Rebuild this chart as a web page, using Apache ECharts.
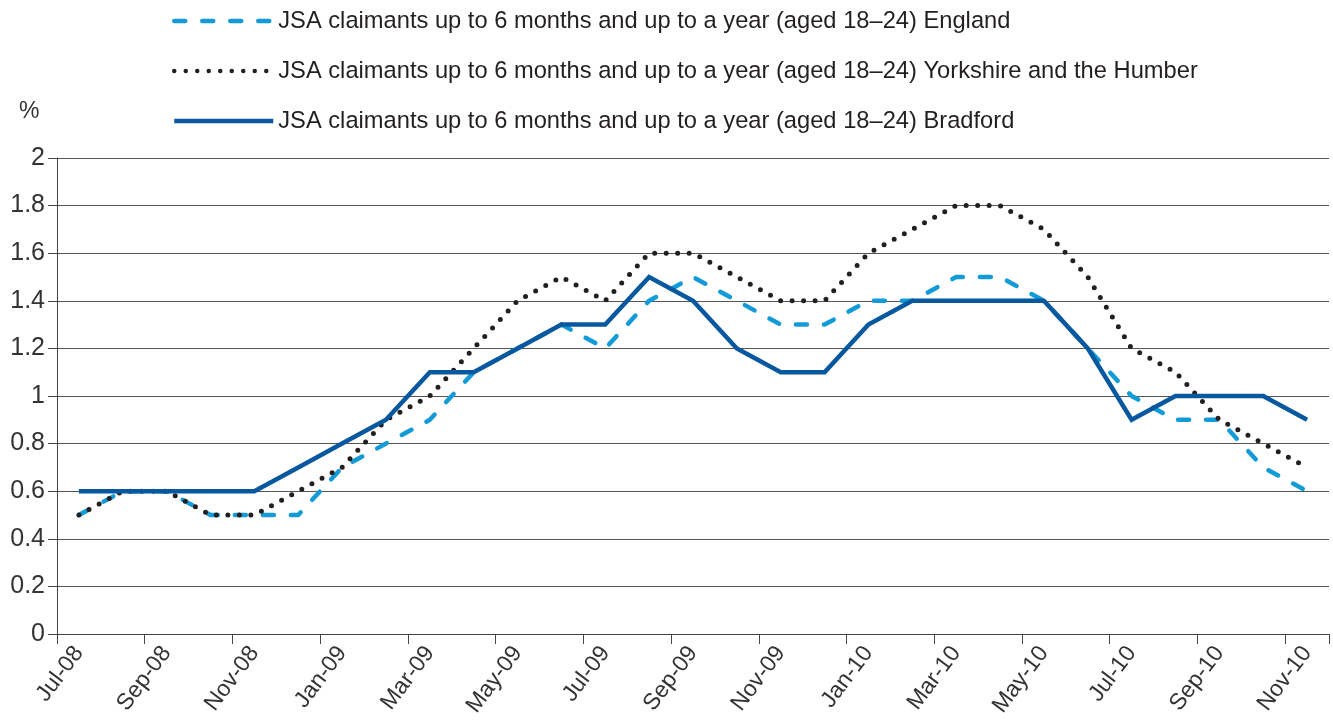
<!DOCTYPE html>
<html>
<head>
<meta charset="utf-8">
<script src="https://cdn.jsdelivr.net/npm/echarts@6/dist/echarts.min.js"></script>
<style>html,body{margin:0;padding:0;background:#fff}#c{width:1333px;height:722px}</style>
</head>
<body>
<div id="c"></div>
<script>
const categories = ['Jul-08','Aug-08','Sep-08','Oct-08','Nov-08','Dec-08','Jan-09','Feb-09','Mar-09','Apr-09','May-09','Jun-09','Jul-09','Aug-09','Sep-09','Oct-09','Nov-09','Dec-09','Jan-10','Feb-10','Mar-10','Apr-10','May-10','Jun-10','Jul-10','Aug-10','Sep-10','Oct-10','Nov-10'];
const england =   [0.5,0.6,0.6,0.5,0.5,0.5,0.7,0.8,0.9,1.1,1.2,1.3,1.2,1.4,1.5,1.4,1.3,1.3,1.4,1.4,1.5,1.5,1.4,1.2,1.0,0.9,0.9,0.7,0.6];
const yorkshire = [0.5,0.6,0.6,0.5,0.5,0.6,0.7,0.9,1.0,1.2,1.4,1.5,1.4,1.6,1.6,1.5,1.4,1.4,1.6,1.7,1.8,1.8,1.7,1.5,1.2,1.1,0.9,0.8,0.7];
const bradford =  [0.6,0.6,0.6,0.6,0.6,0.7,0.8,0.9,1.1,1.1,1.2,1.3,1.3,1.5,1.4,1.2,1.1,1.1,1.3,1.4,1.4,1.4,1.4,1.2,0.9,1.0,1.0,1.0,0.9];
const seriesNames = [
  'JSA claimants up to 6 months and up to a year (aged 18\u201324) England',
  'JSA claimants up to 6 months and up to a year (aged 18\u201324) Yorkshire and the Humber',
  'JSA claimants up to 6 months and up to a year (aged 18\u201324) Bradford'
];
const yTicks = [0, 0.2, 0.4, 0.6, 0.8, 1, 1.2, 1.4, 1.6, 1.8, 2];

const FONT = '"Liberation Sans", Arial, sans-serif';
const chart = echarts.init(document.getElementById('c'), null, {renderer: 'canvas'});
chart.setOption({
  animation: false,
  backgroundColor: '#fff',
  title: {text: '%', left: 14, top: 95, textStyle: {fontFamily: FONT, fontSize: 23, fontWeight: 'normal', color: '#333'}},
  legend: {
    orient: 'vertical', left: 167, top: 4,
    itemWidth: 99, itemHeight: 14, itemGap: 26,
    itemStyle: {opacity: 0},
    lineStyle: {width: 4.5},
    textStyle: {fontFamily: FONT, fontSize: 23.7, color: '#231f20'},
    data: seriesNames
  },
  grid: {left: 57, right: 4, top: 158, bottom: 88, containLabel: false},
  xAxis: {
    type: 'category', data: categories, boundaryGap: true,
    axisLine: {lineStyle: {color: '#444', width: 1}},
    axisTick: {show: true, interval: 1, length: 10, lineStyle: {color: '#444'}},
    axisLabel: {interval: 1, rotate: 53, fontFamily: FONT, fontSize: 23, color: '#333', margin: 15}
  },
  yAxis: {
    type: 'value', min: 0, max: 2, interval: 0.2,
    axisLine: {show: true, lineStyle: {color: '#444', width: 1}},
    axisTick: {show: true, length: 9, lineStyle: {color: '#444'}},
    axisLabel: {fontFamily: FONT, fontSize: 25, color: '#333', margin: 12,
      formatter: v => { const t = yTicks.find(x => Math.abs(x - v) < 1e-6); return String(t !== undefined ? t : +v.toFixed(1)); }},
    splitLine: {lineStyle: {color: '#555', width: 1}}
  },
  series: [
    {name: seriesNames[0], type: 'line', data: england, symbol: 'none', z: 2,
     lineStyle: {color: '#139bd8', width: 4.5, type: [11, 17], cap: 'round', join: 'round'},
     itemStyle: {color: '#139bd8'}},
    {name: seriesNames[1], type: 'line', data: yorkshire, symbol: 'none', z: 3,
     lineStyle: {color: '#231f20', width: 5, type: [0, 11.5], cap: 'round', join: 'round'},
     itemStyle: {color: '#231f20'}},
    {name: seriesNames[2], type: 'line', data: bradford, symbol: 'none', z: 4,
     lineStyle: {color: '#0858a0', width: 4.5, type: 'solid', join: 'miter'},
     itemStyle: {color: '#0858a0'}}
  ]
});
</script>
</body>
</html>
